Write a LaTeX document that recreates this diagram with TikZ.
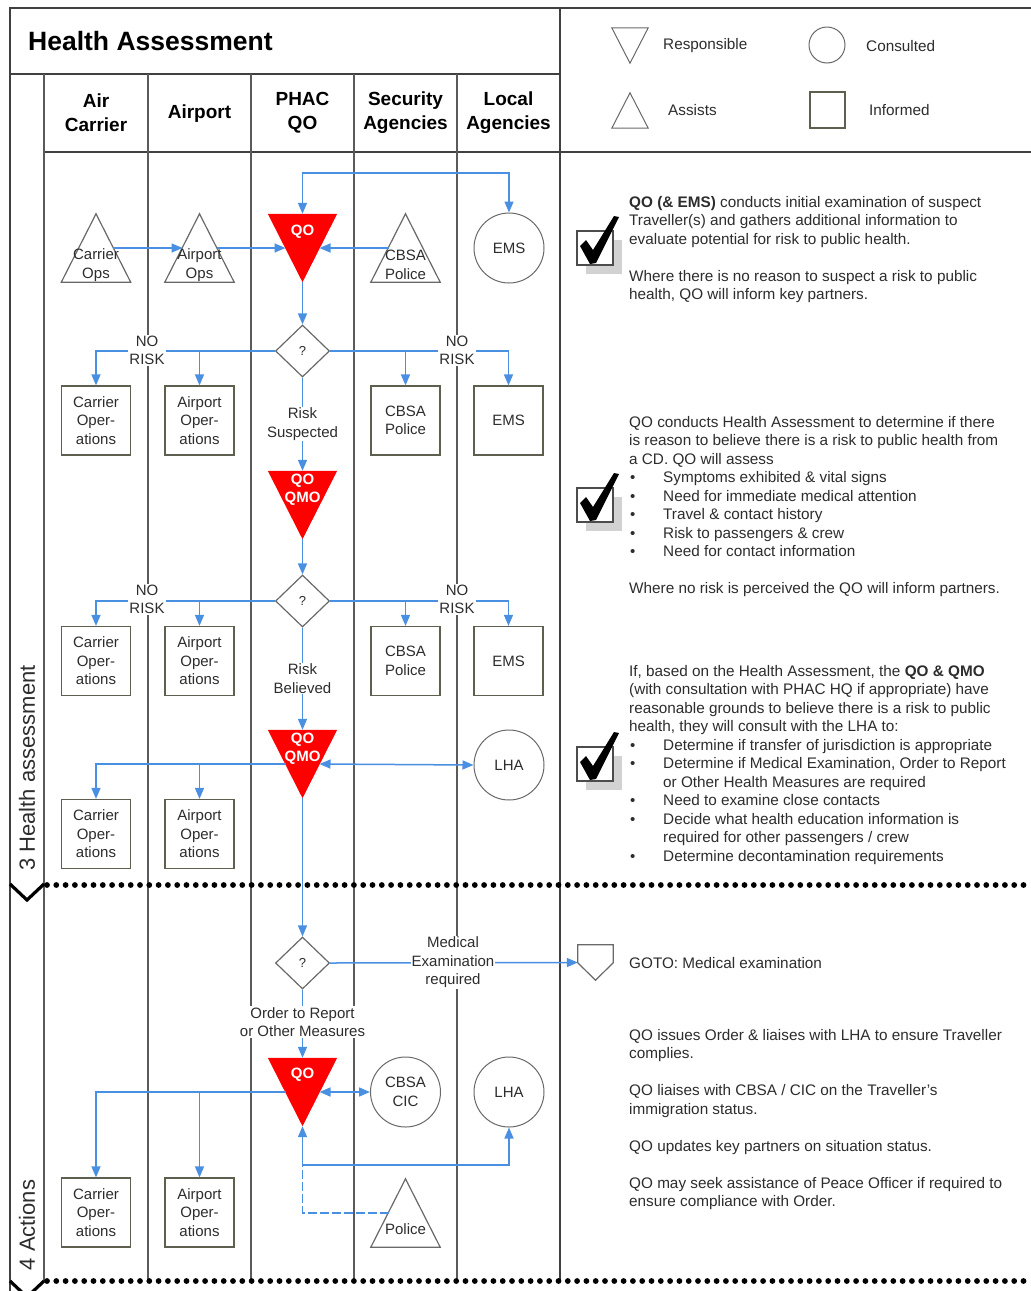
\documentclass[tikz,border=0pt]{standalone}
\usepackage{fontspec}
\setmainfont{Liberation Sans}
\usetikzlibrary{shapes.geometric,arrows.meta,calc}
\definecolor{flowblue}{RGB}{74,144,226}
\definecolor{lanegray}{RGB}{90,90,90}
\definecolor{shapegray}{RGB}{105,105,105}
\definecolor{boxgray}{RGB}{95,95,80}
\definecolor{shadowgray}{RGB}{210,210,210}
\definecolor{txtgray}{RGB}{45,45,45}
\newcommand{\bitem}[1]{\makebox[34pt][l]{\hspace{1pt}\raisebox{0pt}{\fontsize{15}{15}\selectfont\textbullet}}#1}
\begin{document}
\begin{tikzpicture}[x=1pt,y=-1pt,
  nodefont/.style={font=\fontsize{15}{18.5}\selectfont, text=txtgray},
  arr/.style={-{Triangle[length=11pt,width=9pt]}},
  darr/.style={{Triangle[length=11pt,width=9pt]}-{Triangle[length=11pt,width=9pt]}},
  flow/.style={draw=flowblue, line width=1.5pt},
  frame/.style={draw=black!75, line width=1.5pt},
  lane/.style={draw=lanegray, line width=1.3pt},
  tribox/.style={draw=none, minimum width=69pt, minimum height=68pt, inner sep=0pt},
  tri/.style={draw=shapegray, line width=1.2pt, line join=miter},
  boxn/.style={draw=boxgray, line width=1.2pt, minimum width=69pt, minimum height=69pt, inner sep=0pt, align=center, nodefont},
  circn/.style={circle, draw=shapegray, line width=1pt, minimum size=70pt, inner sep=0pt, align=center, nodefont},
  dia/.style={diamond, draw=shapegray, line width=1.2pt, minimum width=54pt, minimum height=52pt, inner sep=0pt, fill=white, font=\fontsize{13}{13}\selectfont, text=txtgray},
  lbl/.style={fill=white, inner sep=1pt, align=center, nodefont},
  trilbl/.style={inner sep=0pt, align=center, nodefont},
  redtxt/.style={inner sep=0pt, align=center, text=white, font=\bfseries\fontsize{15}{18}\selectfont},
  hdr/.style={inner sep=0pt, align=center, font=\bfseries\fontsize{19}{24}\selectfont},
  rtext/.style={anchor=north west, align=left, inner sep=0pt, text=txtgray, font=\fontsize{15.3}{18.5}\selectfont},
  legtxt/.style={anchor=west, inner sep=0pt, text=txtgray, font=\fontsize{15.3}{18}\selectfont},
  dotline/.style={draw=black, line width=5.8pt, line cap=round, dash pattern=on 0pt off 9.3pt},
  chev/.style={draw=black, line width=3.2pt, line join=miter},
  chkbox/.pic={
    \fill[shadowgray] (9,9) rectangle (45,43);
    \draw[fill=white, draw=black!70, line width=1.2pt] (0,0) rectangle (36,34);
    \fill[black] (3,15) -- (9,9) -- (16,19) -- (37,-15) -- (42,-14) -- (19,32) -- (13,33) -- cycle;
  }
]
\useasboundingbox (0,0) rectangle (1031,1291);
\fill[white] (0,0) rectangle (1031,1291);

% frame and lanes
\draw[frame] (10,1291) -- (10,8) -- (1031,8);
\draw[frame] (10,74) -- (560,74);
\draw[frame] (560,8) -- (560,1281);
\draw[frame] (44,152) -- (1031,152);
\foreach \x in {44,148,251,354,457} \draw[lane] (\x,74) -- (\x,1281);

% title and headers
\node[anchor=west, inner sep=0pt, font=\bfseries\fontsize{26.5}{30}\selectfont] (title) at (28,41) {Health Assessment};
\node[hdr] (h1) at (96,113) {Air\\Carrier};
\node[hdr] (h2) at (199.5,114) {Airport};
\node[hdr] (h3) at (302.5,113) {PHAC\\QO};
\node[hdr] (h4) at (405.5,113) {Security\\Agencies};
\node[hdr] (h5) at (508.5,113) {Local\\Agencies};

% legend
\node[draw=none, minimum width=36pt, minimum height=35pt, inner sep=0pt] (lresp) at (630,45.5) {};
\draw[tri, line width=1pt] (lresp.north west) -- (lresp.north east) -- (lresp.south) -- cycle;
\node[legtxt] (lrespt) at (663,46) {Responsible};
\node[circle, draw=shapegray, line width=1pt, minimum size=36pt, inner sep=0pt] (lcons) at (827,45) {};
\node[legtxt] (lconst) at (866,46) {Consulted};
\node[draw=none, minimum width=36pt, minimum height=35pt, inner sep=0pt] (lass) at (630,110.5) {};
\draw[tri, line width=1pt] (lass.south west) -- (lass.north) -- (lass.south east) -- cycle;
\node[legtxt] (lasst) at (668,110) {Assists};
\node[draw=boxgray, line width=1.2pt, minimum width=35pt, minimum height=36pt, inner sep=0pt] (linf) at (827.5,110) {};
\node[legtxt] (linft) at (869,110) {Informed};

% section labels and separators
\node[rotate=90, inner sep=0pt, text=txtgray, font=\fontsize{22}{26}\selectfont] (sec3) at (27,768) {3 Health assessment};
\node[rotate=90, inner sep=0pt, text=txtgray, font=\fontsize{22}{26}\selectfont] (sec4) at (27,1225) {4 Actions};
\draw[dotline] (47,885) -- (1031,885);
\draw[chev] (10,884) -- (27,900) -- (44,884);
\draw[dotline] (47,1281) -- (1031,1281);
\draw[chev] (10,1281) -- (27,1297) -- (44,1281);

% ---------- row 1
\node[tribox] (co) at (96,248) {};
\node[tribox] (ao) at (199.5,248) {};
\node[tribox] (qo1) at (302.5,248) {};
\node[tribox] (cp) at (405.5,248) {};
\node[circn] (ems1) at (509,248) {EMS};
\foreach \n in {co,ao,cp} \draw[tri] (\n.south west) -- (\n.north) -- (\n.south east) -- cycle;
\fill[red] (qo1.north west) -- (qo1.north east) -- (qo1.south) -- cycle;
\node[trilbl] (colbl) at (96,265) {Carrier\\Ops};
\node[trilbl] (aolbl) at (199.5,265) {Airport\\Ops};
\node[trilbl] (cplbl) at (405.5,265) {CBSA\\Police};
\node[redtxt] (qo1lbl) at (302.5,232) {QO};

\draw[flow,darr] (qo1.north) -- ++(0,-41) -| (ems1.north);
\draw[flow,arr] ($(co.center)+(17,0)$) -- ($(ao.center)+(-17,0)$);
\draw[flow,arr] ($(ao.center)+(17,0)$) -- ($(qo1.center)+(-17,0)$);
\draw[flow,arr] ($(cp.center)+(-17,0)$) -- ($(qo1.center)+(17,0)$);

% ---------- decision 1
\node[dia] (d1) at (302.5,351) {?};
\draw[flow,arr] (qo1.south) -- (d1.north);
\node[boxn] (b2co) at (96,420.5) {Carrier\\Oper-\\ations};
\node[boxn] (b2ao) at (199.5,420.5) {Airport\\Oper-\\ations};
\node[boxn] (b2cp) at (405.5,420.5) {CBSA\\Police};
\node[boxn] (b2ems) at (508.5,420.5) {EMS};
\draw[flow,arr] (d1.west) -| (b2co.north);
\draw[flow,arr] (b2ao.north |- d1.west) -- (b2ao.north);
\draw[flow,arr] (d1.east) -| (b2ems.north);
\draw[flow,arr] (b2cp.north |- d1.east) -- (b2cp.north);
\node[lbl] (nr1) at (147,350.5) {NO\\RISK};
\node[lbl] (nr2) at (457,350.5) {NO\\RISK};

\node[tribox] (qmo1) at (302.5,505) {};
\fill[red] (qmo1.north west) -- (qmo1.north east) -- (qmo1.south) -- cycle;
\node[redtxt] (qmo1lbl) at (302.5,489.5) {QO\\QMO};
\draw[flow,arr] (d1.south) -- (qmo1.north);
\node[lbl] (rs) at (302.5,424) {Risk\\Suspected};

% ---------- decision 2
\node[dia] (d2) at (302.5,601) {?};
\draw[flow,arr] (qmo1.south) -- (d2.north);
\node[boxn] (b3co) at (96,661) {Carrier\\Oper-\\ations};
\node[boxn] (b3ao) at (199.5,661) {Airport\\Oper-\\ations};
\node[boxn] (b3cp) at (405.5,661) {CBSA\\Police};
\node[boxn] (b3ems) at (508.5,661) {EMS};
\draw[flow,arr] (d2.west) -| (b3co.north);
\draw[flow,arr] (b3ao.north |- d2.west) -- (b3ao.north);
\draw[flow,arr] (d2.east) -| (b3ems.north);
\draw[flow,arr] (b3cp.north |- d2.east) -- (b3cp.north);
\node[lbl] (nr3) at (147,599.5) {NO\\RISK};
\node[lbl] (nr4) at (457,599.5) {NO\\RISK};

\node[tribox] (qmo2) at (302.5,764) {};
\fill[red] (qmo2.north west) -- (qmo2.north east) -- (qmo2.south) -- cycle;
\node[redtxt] (qmo2lbl) at (302.5,748.5) {QO\\QMO};
\draw[flow,arr] (d2.south) -- (qmo2.north);
\node[lbl] (rb) at (302.5,678.5) {Risk\\Believed};

% ---------- QMO 2 row
\node[circn] (lha1) at (509,765) {LHA};
\node[boxn] (b4co) at (96,834) {Carrier\\Oper-\\ations};
\node[boxn] (b4ao) at (199.5,834) {Airport\\Oper-\\ations};
\draw[flow,arr] ($(qmo2.center)+(-17,0)$) -| (b4co.north);
\draw[flow,arr] (b4ao.north |- qmo2.center) -- (b4ao.north);
\draw[flow,darr] ($(qmo2.center)+(17,0)$) -- (lha1.west);

% ---------- decision 3
\node[dia] (d3) at (302.5,963) {?};
\draw[flow,arr] (qmo2.south) -- (d3.north);
\node[draw=none, minimum width=35pt, minimum height=35pt, inner sep=0pt] (off) at (595.5,962.5) {};
\draw[tri, fill=white] (off.north west) -- (off.north east) -- ($(off.north east)+(0,18)$) -- (off.south) -- ($(off.north west)+(0,18)$) -- cycle;
\draw[flow,arr] (d3.east) -- (off.west);
\node[lbl] (mer) at (453,962.5) {Medical\\Examination\\required};
\node[rtext, anchor=west] (goto) at (629,963) {GOTO: Medical examination};

\node[tribox] (qo3) at (302.5,1092) {};
\fill[red] (qo3.north west) -- (qo3.north east) -- (qo3.south) -- cycle;
\node[redtxt] (qo3lbl) at (302.5,1075) {QO};
\draw[flow,arr] (d3.south) -- (qo3.north);
\node[lbl] (otr) at (302.5,1022) {Order to Report\\or Other Measures};

% ---------- QO 3 row
\node[circn] (cic) at (405.5,1092) {CBSA\\CIC};
\node[circn] (lha2) at (509,1092) {LHA};
\node[boxn] (b5co) at (96,1212.5) {Carrier\\Oper-\\ations};
\node[boxn] (b5ao) at (199.5,1212.5) {Airport\\Oper-\\ations};
\node[tribox] (pol) at (405.5,1213) {};
\draw[tri] (pol.south west) -- (pol.north) -- (pol.south east) -- cycle;
\node[trilbl] (pollbl) at (405.5,1229.5) {Police};
\draw[flow,arr] ($(qo3.center)+(-17,0)$) -| (b5co.north);
\draw[flow,arr] (b5ao.north |- qo3.center) -- (b5ao.north);
\draw[flow,darr] ($(qo3.center)+(17,0)$) -- (cic.west);
\coordinate (j1) at ($(qo3.south)+(0,39)$);
\draw[flow,darr] (qo3.south) -- (j1) -| (lha2.south);
\draw[flow, dash pattern=on 9pt off 3pt] ($(pol.center)+(-17,0)$) -| (j1);

% ---------- right column
\pic at (577,231) {chkbox};
\pic at (577,488) {chkbox};
\pic at (577,747) {chkbox};

\node[rtext] (t1) at (629,196) {\textbf{QO (\& EMS)} conducts initial examination of suspect\\Traveller(s) and gathers additional information to\\evaluate potential for risk to public health.\\[18.5pt]Where there is no reason to suspect a risk to public\\health, QO will inform key partners.};

\node[rtext] (t2) at (629,416) {QO conducts Health Assessment to determine if there\\is reason to believe there is a risk to public health from\\a CD. QO will assess\\\bitem{Symptoms exhibited \& vital signs}\\\bitem{Need for immediate medical attention}\\\bitem{Travel \& contact history}\\\bitem{Risk to passengers \& crew}\\\bitem{Need for contact information}\\[18.5pt]Where no risk is perceived the QO will inform partners.};

\node[rtext] (t3) at (629,665) {If, based on the Health Assessment, the \textbf{QO \& QMO}\\(with consultation with PHAC HQ if appropriate) have\\reasonable grounds to believe there is a risk to public\\health, they will consult with the LHA to:\\\bitem{Determine if transfer of jurisdiction is appropriate}\\\bitem{Determine if Medical Examination, Order to Report}\\\hspace*{34pt}or Other Health Measures are required\\\bitem{Need to examine close contacts}\\\bitem{Decide what health education information is}\\\hspace*{34pt}required for other passengers / crew\\\bitem{Determine decontamination requirements}};

\node[rtext] (t4) at (629,1029) {QO issues Order \& liaises with LHA to ensure Traveller\\complies.\\[18.5pt]QO liaises with CBSA / CIC on the Traveller's\\immigration status.\\[18.5pt]QO updates key partners on situation status.\\[18.5pt]QO may seek assistance of Peace Officer if required to\\ensure compliance with Order.};
\end{tikzpicture}
\end{document}
